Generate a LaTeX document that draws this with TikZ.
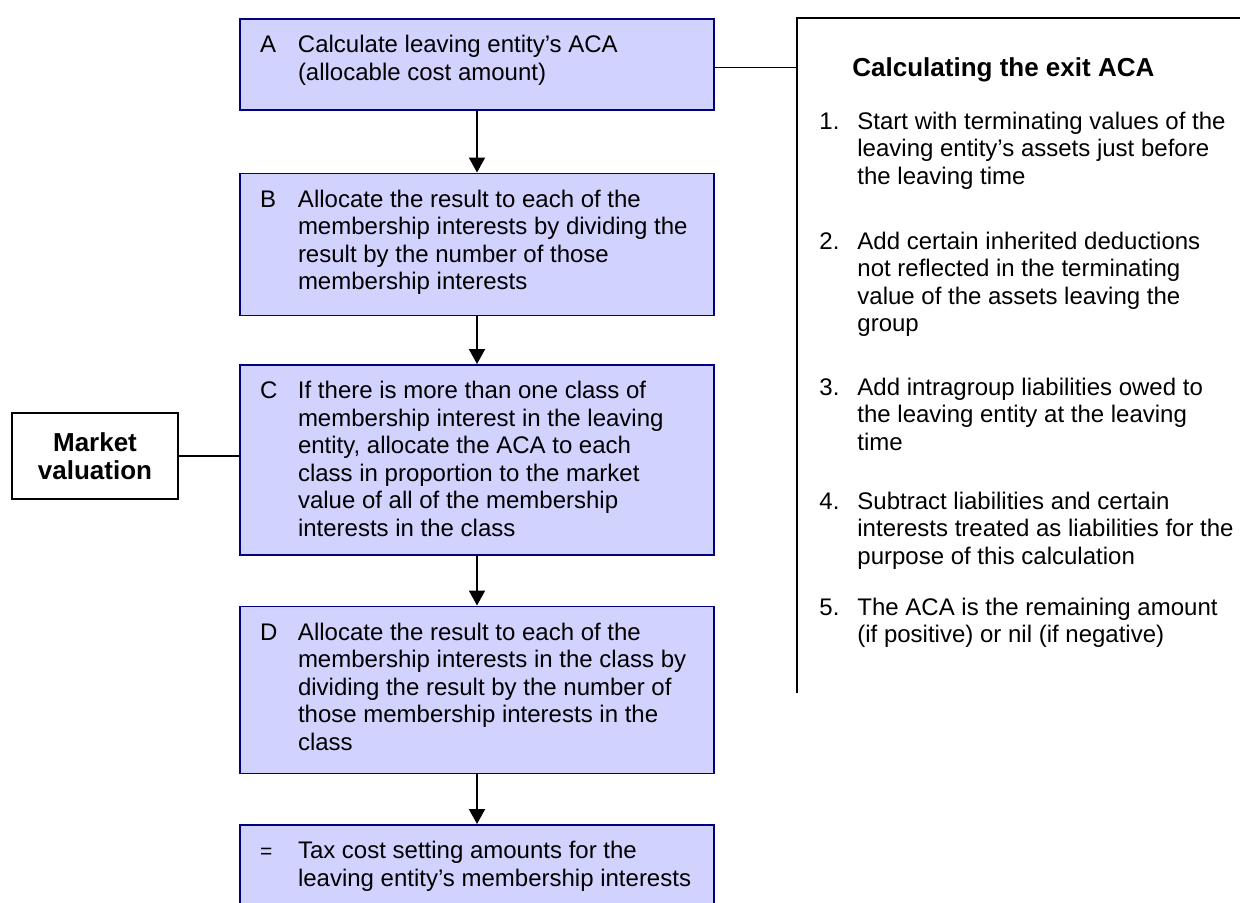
\documentclass[tikz,border=0pt]{standalone}
\usepackage{fontspec}
\setmainfont{Liberation Sans}
\usetikzlibrary{positioning,arrows.meta}
\definecolor{stepfill}{RGB}{210,210,255}
\definecolor{stepline}{RGB}{0,0,128}
% letter, body, box height
\newcommand{\steptext}[3]{\parbox[c][#3][t]{217pt}{\vspace*{8.4pt}\makebox[19pt][l]{#1}\parbox[t]{198pt}{\raggedright #2}}}
\newcommand{\itemtext}[2]{\makebox[19pt][l]{#1}\parbox[t]{205pt}{\raggedright #2}}
\begin{document}
\begin{tikzpicture}[x=0.5pt, y=0.5pt,
        font=\fontsize{12}{13.75}\selectfont, >={Triangle[width=8pt,length=7.5pt]},
        stepbox/.style={draw=stepline, fill=stepfill, line width=0.75pt, inner xsep=10pt, inner ysep=0pt, minimum width=237pt},
        sidebox/.style={draw, line width=0.9pt, align=center, minimum width=83pt, minimum height=43pt, font=\fontsize{13}{14}\selectfont\bfseries},
        listitem/.style={anchor=base west, inner sep=0pt},
        flow/.style={->, line width=1pt},
        link/.style={line width=0.75pt}]
        \useasboundingbox (0,0) rectangle (1240,-902);
        \clip (0,0) rectangle (1240,-902);
        % main steps
        \node[stepbox, anchor=north] (A) at (477,-18) {\steptext{A}{Calculate leaving entity’s ACA\\(allocable cost amount)}{45.5pt}};
        \node[stepbox, below=31pt of A] (B) {\steptext{B}{Allocate the result to each of the\\membership interests by dividing the\\result by the number of those\\membership interests}{71pt}};
        \node[stepbox, below=24pt of B] (C) {\steptext{C}{If there is more than one class of\\membership interest in the leaving\\entity, allocate the ACA to each\\class in proportion to the market\\value of all of the membership\\interests in the class}{95pt}};
        \node[stepbox, below=25pt of C] (D) {\steptext{D}{Allocate the result to each of the\\membership interests in the class by\\dividing the result by the number of\\those membership interests in the\\class}{83.5pt}};
        \node[stepbox, below=25pt of D] (E) {\steptext{{\fontsize{10.5}{11}\selectfont =}}{Tax cost setting amounts for the\\leaving entity’s membership interests}{45.5pt}};
        \node[sidebox] (market) at (95,-456) {Market\\valuation};
        % exit ACA panel
        \node[anchor=north west, inner sep=0pt, minimum width=240pt, minimum height=337pt] (panel) at (797,-18) {};
        \draw[line width=1pt] (panel.north east) -- (panel.north west) -- (panel.south west);
        \node[listitem, font=\fontsize{13}{15}\selectfont\bfseries] (title) at (852,-76) {Calculating the exit ACA};
        \node[listitem] (s1) at (819,-129) {\itemtext{1.}{Start with terminating values of the\\leaving entity’s assets just before\\the leaving time}};
        \node[listitem] (s2) at (819,-249) {\itemtext{2.}{Add certain inherited deductions\\not reflected in the terminating\\value of the assets leaving the\\group}};
        \node[listitem] (s3) at (819,-395) {\itemtext{3.}{Add intragroup liabilities owed to\\the leaving entity at the leaving\\time}};
        \node[listitem] (s4) at (819,-509) {\itemtext{4.}{Subtract liabilities and certain\\interests treated as liabilities for the\\purpose of this calculation}};
        \node[listitem] (s5) at (819,-615) {\itemtext{5.}{The ACA is the remaining amount\\(if positive) or nil (if negative)}};
        \draw[flow] (A.south) -- (B.north);
        \draw[flow] (B.south) -- (C.north);
        \draw[flow] (C.south) -- (D.north);
        \draw[flow] (D.south) -- (E.north);
        \draw[link] ([yshift=-1.5pt]A.east) -- ([yshift=-1.5pt]A.east -| panel.west);
        \draw[link] (market.east) -- (market.east -| C.west);
\end{tikzpicture}
\end{document}
